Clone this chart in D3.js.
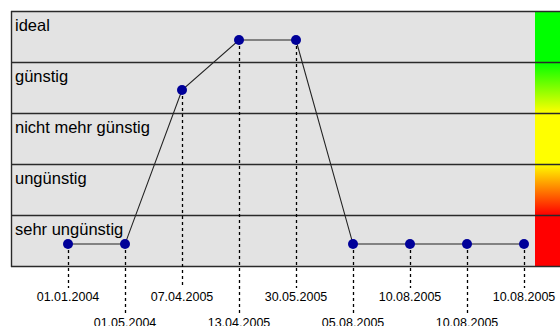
<!DOCTYPE html>
<html><head><meta charset="utf-8">
<script src="https://cdn.jsdelivr.net/npm/d3@7"></script>
<style>body{margin:0;background:#fff}svg{display:block}text{font-family:"Liberation Sans",Arial,sans-serif;fill:#000}</style>
</head><body><svg id="c" width="560" height="326"></svg>
<script>
const levels = ["sehr ungünstig","ungünstig","nicht mehr günstig","günstig","ideal"];
const dates = ["01.01.2004","01.05.2004","07.04.2005","13.04.2005","30.05.2005","05.08.2005","10.08.2005","10.08.2005","10.08.2005"];
const values = [0.43,0.43,3.45,4.43,4.43,0.43,0.43,0.43,0.43];

const svg = d3.select("#c");
const L=11,T=11,B=266,R=560,barX=535;
const y = d3.scaleLinear().domain([0,5]).range([B,T]);
const x = d3.scalePoint().domain(d3.range(dates.length)).range([68,524]);

svg.append("rect").attr("x",L).attr("y",T).attr("width",R-L).attr("height",B-T).attr("fill","#e3e3e3");

const grad = svg.append("defs").append("linearGradient").attr("id","g").attr("x1",0).attr("y1",0).attr("x2",0).attr("y2",1);
[[0,"#00ff00"],[0.2,"#00ff00"],[0.4,"#ffff00"],[0.6,"#ffff00"],[0.8,"#ff0000"],[1,"#ff0000"]].forEach(s=>grad.append("stop").attr("offset",s[0]).attr("stop-color",s[1]));
svg.append("rect").attr("x",barX).attr("y",T).attr("width",R-barX).attr("height",B-T).attr("fill","url(#g)");

// band lines
d3.range(0,6).forEach(i=>{
  svg.append("line").attr("x1",L).attr("x2",R).attr("y1",Math.round(y(i))+0.5).attr("y2",Math.round(y(i))+0.5).attr("stroke","#2a2a2a").attr("stroke-width",1.4);
});
svg.append("line").attr("x1",L+0.5).attr("x2",L+0.5).attr("y1",T).attr("y2",B+1).attr("stroke","#2a2a2a").attr("stroke-width",1.4);

// band labels
levels.forEach((t,i)=>{
  svg.append("text").attr("x",L+4).attr("y",y(i+1)+20).style("font-size","16.5px").text(t);
});

// dashed drop lines and date labels
dates.forEach((d,i)=>{
  const px=Math.round(x(i))+0.5;
  svg.append("line").attr("x1",px).attr("x2",px).attr("y1",y(values[i])).attr("y2",i%2===0?288:314)
    .attr("stroke","#000").attr("stroke-width",1.3).attr("stroke-dasharray","3,3");
  svg.append("text").attr("x",x(i)).attr("y",i%2===0?301:327).attr("text-anchor","middle").style("font-size","12.5px").text(d);
});

svg.append("path").datum(values).attr("fill","none").attr("stroke","#222").attr("stroke-width",1.1)
  .attr("d",d3.line().x((d,i)=>x(i)).y(d=>y(d)));

svg.selectAll("circle").data(values).join("circle").attr("cx",(d,i)=>x(i)).attr("cy",d=>y(d)).attr("r",5).attr("fill","#000099");
</script></body></html>
